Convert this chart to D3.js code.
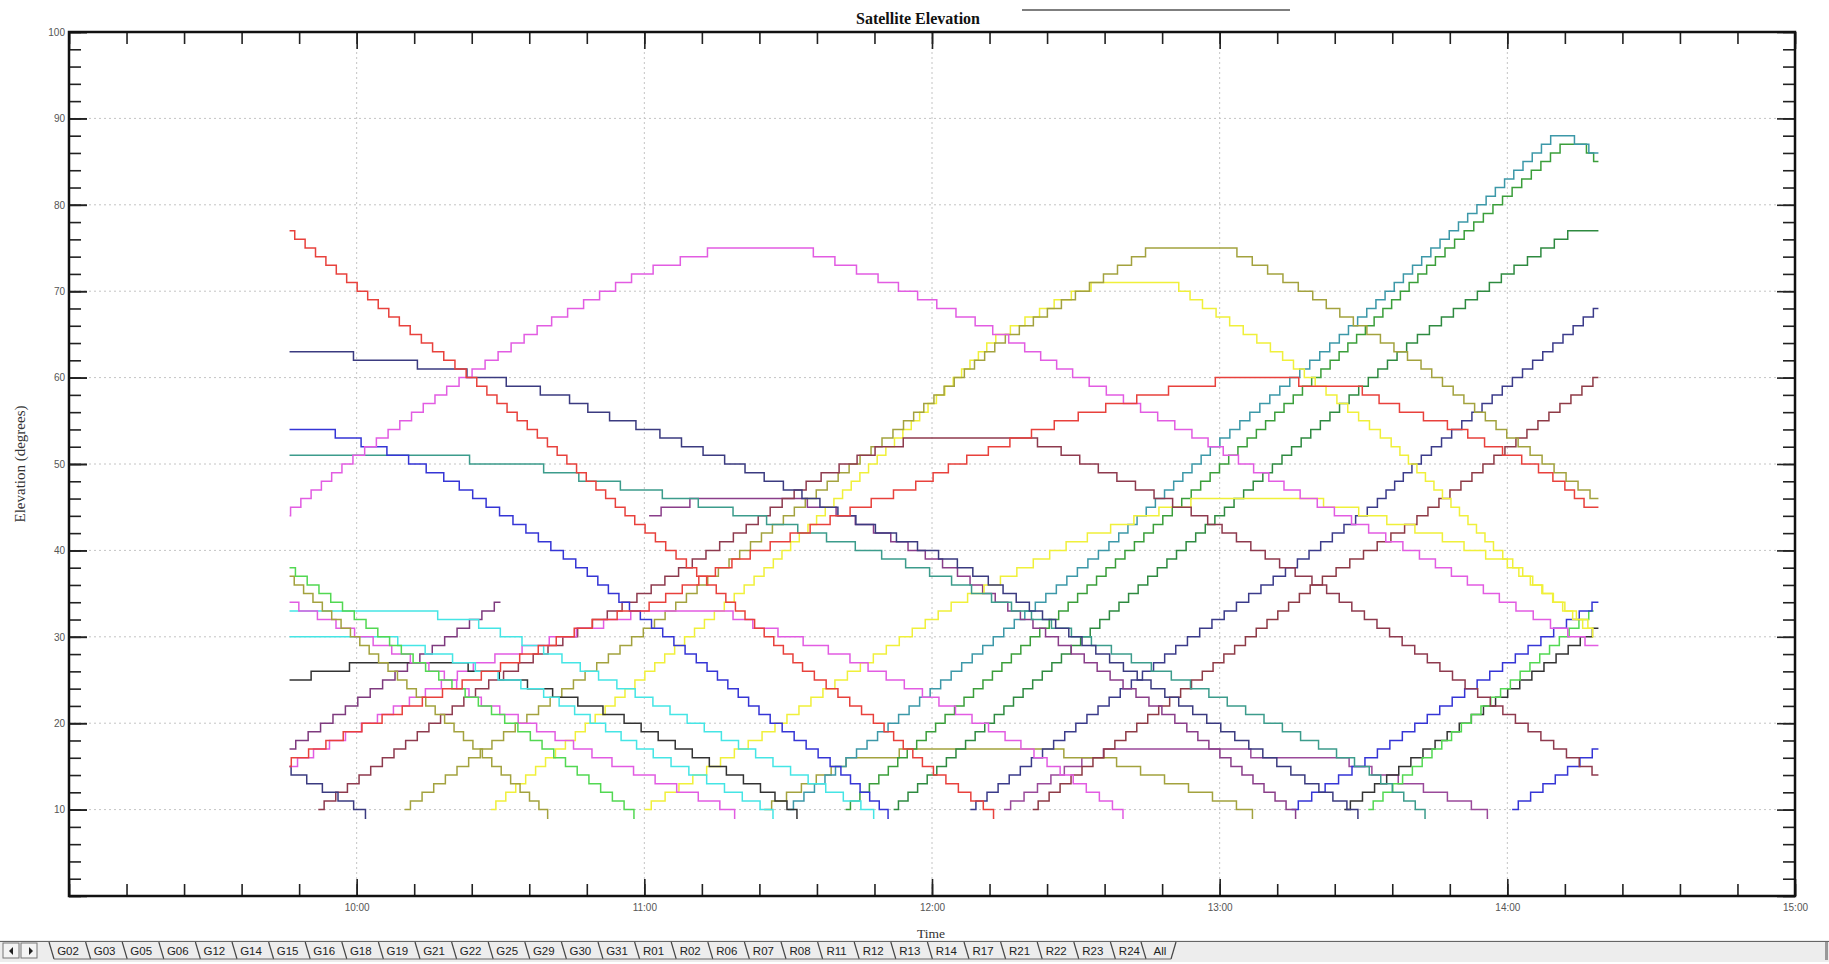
<!DOCTYPE html>
<html><head><meta charset="utf-8">
<script src="https://cdn.jsdelivr.net/npm/d3@7"></script>
<style>html,body{margin:0;padding:0;background:#fff;overflow:hidden}</style>
</head><body>
<svg id="chart" width="1829" height="964"></svg>
<script>
// ---------- text & ticks ----------
const chartTitle = "Satellite Elevation";
const xAxisTitle = "Time";
const yAxisTitle = "Elevation (degrees)";
const xDomain = ["09:00", "15:00"];
const xTickLabels = ["10:00", "11:00", "12:00", "13:00", "14:00", "15:00"];
const yTickLabels = [10, 20, 30, 40, 50, 60, 70, 80, 90, 100];
const tabLabels = ["G02","G03","G05","G06","G12","G14","G15","G16","G18","G19","G21","G22","G25","G29","G30","G31",
                   "R01","R02","R06","R07","R08","R11","R12","R13","R14","R17","R21","R22","R23","R24","All"];

// ---------- series: [time, elevation in degrees] ----------
const redFalling   = [["09:46",77],["09:59",71],["10:10",66],["10:24",60],["10:40",52.4],["10:58",43.5],["11:12",37],["11:20",33],["11:33",26.5],["11:49",20],["11:59",15],["12:12",10],["12:13",9.4]];
const redRising    = [["09:46",15.4],["09:59",19],["10:20",24],["10:36",28],["10:51",32],["11:01",33.5],["11:20",39],["11:45",45],["11:58",47.8],["12:05",50],["12:14",52],["12:23",54],["12:33",56],["12:44",57.7],["12:52",58.9],["13:05",60],["13:16",60],["13:17",59],["13:28",59],["13:35",57],["13:40",56],["13:50",54],["13:57",52],["14:05",50],["14:11",48],["14:17",45],["14:19",45]];
const magentaArc   = [["09:46",44.4],["09:58",50],["10:20",59],["10:39",66],["10:59",72],["11:16",75],["11:33",75],["11:51",71],["12:11",66],["12:31",60],["12:56",53],["13:15",47],["13:40",40],["14:00",34],["14:18",29],["14:19",29]];
const navyFalling  = [["09:46",63],["09:58",62.6],["10:14",61.4],["10:24",60.4],["10:32",59.4],["10:39",58.4],["10:45",57.4],["10:50",56],["11:01",54],["11:10",52],["11:19",50],["11:31",47],["11:46",43],["12:04",38.9],["12:14",35.8],["12:31",29.6],["12:50",23],["13:28",10],["13:29",9.4]];
const blueFalling  = [["09:46",54],["09:55",53.6],["10:09",51],["10:20",48],["10:34",43],["10:47",38],["10:58",33],["11:12",27],["11:25",21],["11:40",15],["11:50",10],["11:51",9.4]];
const tealFalling  = [["09:46",51],["10:22",50.6],["10:39",49.5],["10:50",48],["11:00",47],["11:15",45],["11:29",43],["11:47",40],["12:02",37],["12:52",25],["13:15",19],["13:30",15],["13:42",10],["13:43",9.4]];
const limeFalling  = [["09:46",38],["10:13",27],["10:35",19],["10:57",10],["10:58",9.4]];
const oliveFalling = [["09:46",37],["10:03",28.3],["10:39",10],["10:40",9.4]];
const pinkFalling  = [["09:46",34],["10:17",26],["10:26",22.5],["10:51",16],["11:18",10],["11:19",9.4]];
const cyanUpper    = [["09:46",33],["10:16",32.6],["10:25",31.6],["10:39",28.5],["11:00",23],["11:25",16],["11:47",10],["11:48",9.4]];
const cyanLower    = [["09:46",30],["10:08",29.6],["10:20",27.5],["10:39",23.5],["11:00",17],["11:26",10],["11:27",9.4]];
const blackFalling = [["09:46",25],["09:50",25],["09:51",26],["09:58",26],["09:59",27],["10:20",27],["10:33",25],["10:54",21],["11:26",12],["11:31",10],["11:32",9.4]];
const purpleShort  = [["09:46",17],["10:30",34]];
const magentaHump  = [["09:46",15],["10:26",27],["11:00",33],["11:17",33],["11:20",32],["11:41",28],["11:58",23.5],["12:18",17.7],["12:39",10],["12:40",9.4]];
const navyShort    = [["09:46",14.6],["10:01",10],["10:02",9.4]];
const maroonArc    = [["09:52",10],["10:26",24],["11:00",35],["11:20",42],["11:35",48],["11:50",52],["11:58",53],["12:19",53],["12:25",52],["12:56",44],["13:14",38],["13:21",36],["14:03",20],["14:19",14]];
const oliveArc     = [["10:10",10],["11:01",31],["11:21",40],["11:53",54],["12:15",64.4],["12:46",75],["13:02",75],["13:18",70],["13:42",61.5],["14:01",53],["14:19",45.8]];
const yellowArc    = [["10:28",10],["11:26",38],["11:52",52.4],["12:13",64.4],["12:27",69],["12:34",70.7],["12:51",70.7],["12:55",69],["13:12",63],["13:36",52.4],["13:58",40],["14:18",30.4]];
const yellowLow    = [["11:00",10],["11:26",19],["11:41",25],["12:04",33.5],["12:29",40.8],["12:46",44.3],["12:56",45.8],["13:18",46],["13:29",44.5],["13:46",41.6],["14:00",38.5],["14:18",31]];
const oliveLow     = [["11:25",10],["11:43",15.8],["11:53",16.4],["11:54",17],["12:27",17],["12:28",16],["12:36",16],["12:48",13.6],["12:53",12.6],["13:06",10],["13:07",9.4]];
const purpleFalling= [["11:01",44],["11:06",45],["11:13",46],["11:30",46],["11:38",45],["11:46",43],["12:04",38],["12:25",30],["12:52",20],["13:15",10],["13:16",9.4]];
const tealRising   = [["11:30",10],["12:38",41],["12:59",52],["13:24",64],["13:45",75],["14:10",88],["14:13",88],["14:15",87],["14:19",86]];
const greenRising  = [["11:42",10],["12:59",49],["13:24",62],["13:45",73.5],["14:12",87],["14:16",87],["14:17",86],["14:19",85]];
const dkGreenRising= [["11:52",10],["13:04",46],["13:40",64],["14:00",72],["14:14",77],["14:19",77]];
const navyRising   = [["12:08",10],["12:52",29],["13:15",38],["13:32",45],["13:41",50],["14:19",68]];
const brownRising  = [["12:21",10],["12:53",24],["13:20",36],["13:40",43],["14:19",60]];
const blueRising   = [["13:15",10],["13:29",15],["13:55",25],["14:19",34]];
const limeRising   = [["13:31",10],["14:18",33]];
const blackRising  = [["13:26",10],["14:19",31]];
const blueShortRise= [["14:01",10],["14:19",17]];
const purpleLow    = [["12:15",10],["12:29",15],["12:38",17],["13:06",17],["13:07",16],["13:25",16],["13:29",15],["13:40",13],["13:55",10],["13:56",9.4]];

const series = [
  {data: purpleLow,     color: "#9a4a9a"},
  {data: oliveLow,      color: "#a3a23e"},
  {data: blueShortRise, color: "#3535d5"},
  {data: blackRising,   color: "#333333"},
  {data: limeRising,    color: "#52d852"},
  {data: blueRising,    color: "#3535d5"},
  {data: brownRising,   color: "#8e3a46"},
  {data: navyRising,    color: "#3b3b8a"},
  {data: dkGreenRising, color: "#2e8a40"},
  {data: greenRising,   color: "#3a9e3a"},
  {data: tealRising,    color: "#3c98a8"},
  {data: purpleFalling, color: "#8a3e8a"},
  {data: yellowLow,     color: "#f0f03a"},
  {data: yellowArc,     color: "#f0f03a"},
  {data: oliveArc,      color: "#a3a23e"},
  {data: maroonArc,     color: "#8e3a4e"},
  {data: navyShort,     color: "#3b3b80"},
  {data: magentaHump,   color: "#e25ce2"},
  {data: purpleShort,   color: "#7e3a7e"},
  {data: blackFalling,  color: "#333333"},
  {data: cyanLower,     color: "#45e5e5"},
  {data: cyanUpper,     color: "#45e5e5"},
  {data: pinkFalling,   color: "#e25ce2"},
  {data: oliveFalling,  color: "#a3a23e"},
  {data: limeFalling,   color: "#52d852"},
  {data: tealFalling,   color: "#3c9c8c"},
  {data: blueFalling,   color: "#3535d5"},
  {data: navyFalling,   color: "#3b3b80"},
  {data: magentaArc,    color: "#e25ce2"},
  {data: redRising,     color: "#e8413c"},
  {data: redFalling,    color: "#e8413c"}
];

// ---------- layout ----------
const svg = d3.select("#chart");
const L = 69, R = 1795, T = 32, B = 896;
const parse = d3.timeParse("%H:%M");
const x = d3.scaleTime().domain(xDomain.map(parse)).range([L, R]);
const y = d3.scaleLinear().domain([0, 100]).range([B, T]);

// grid
const gridG = svg.append("g");
gridG.selectAll("line.gy").data(yTickLabels.filter(v => v < 100)).join("line")
  .attr("x1", L).attr("x2", R).attr("y1", d => y(d)).attr("y2", d => y(d))
  .attr("stroke", "#c4c4c4").attr("stroke-dasharray", "2,3").attr("stroke-width", 1);
gridG.selectAll("line.gx").data(xTickLabels.slice(0, -1).map(parse)).join("line")
  .attr("y1", T).attr("y2", B).attr("x1", d => x(d)).attr("x2", d => x(d))
  .attr("stroke", "#c4c4c4").attr("stroke-dasharray", "2,3").attr("stroke-width", 1);

// integer-degree staircase curve (the receiver reports whole degrees)
function curveDegreeSteps(ys) {
  const unit = ys(0) - ys(1), base = ys(0);
  function Stairs(ctx) { this._c = ctx; }
  Stairs.prototype = {
    areaStart() {}, areaEnd() {},
    lineStart() { this._p = []; },
    point(px, py) { this._p.push([+px, +py]); },
    lineEnd() {
      const p = this._p, c = this._c; if (!p.length) return;
      const deg = v => (base - v) / unit, lev = v => Math.round(deg(v)), yy = k => base - k * unit;
      let k = lev(p[0][1]);
      c.moveTo(p[0][0], yy(k));
      for (let i = 1; i < p.length; i++) {
        const [x0, y0] = p[i - 1], [x1, y1] = p[i];
        const e0 = deg(y0), e1 = deg(y1), k1 = lev(y1);
        while (k !== k1) {
          const nk = k1 > k ? k + 1 : k - 1, thr = (k + nk) / 2;
          let t = e1 === e0 ? 1 : (thr - e0) / (e1 - e0);
          t = Math.max(0, Math.min(1, t));
          const xx = x0 + t * (x1 - x0);
          c.lineTo(xx, yy(k)); c.lineTo(xx, yy(nk)); k = nk;
        }
      }
      c.lineTo(p[p.length - 1][0], yy(k));
    }
  };
  return ctx => new Stairs(ctx);
}

const line = d3.line().x(d => x(parse(d[0]))).y(d => y(d[1])).curve(curveDegreeSteps(y));
svg.append("g").selectAll("path").data(series).join("path")
  .attr("d", d => line(d.data)).attr("fill", "none")
  .attr("stroke", d => d.color).attr("stroke-width", 1.5);

// axes (ticks point inward)
const minorX = d3.timeMinute.every(12).range(parse("09:00"), parse("15:01"));
const hoursX = d3.timeHour.range(parse("09:00"), parse("15:01"));
const minorY = d3.range(0, 101, 2);
const majorY = d3.range(0, 101, 10);
const tickStyle = g => { g.select(".domain").remove(); g.selectAll("line").attr("stroke", "#222").attr("stroke-width", 1.6); g.selectAll("text").attr("fill", "#555").style("font", "10px 'Liberation Sans', Arial, sans-serif"); };

svg.append("g").attr("transform", `translate(0,${B})`).call(d3.axisBottom(x).tickValues(minorX).tickSize(-12).tickFormat("")).call(tickStyle);
svg.append("g").attr("transform", `translate(0,${B})`).call(d3.axisBottom(x).tickValues(xTickLabels.map(parse)).tickSize(-17).tickPadding(8).tickFormat(d3.timeFormat("%H:%M"))).call(tickStyle);
svg.append("g").attr("transform", `translate(0,${B})`).call(d3.axisBottom(x).tickValues([parse("09:00")]).tickSize(-17).tickFormat("")).call(tickStyle);
svg.append("g").attr("transform", `translate(0,${T})`).call(d3.axisTop(x).tickValues(minorX).tickSize(-12).tickFormat("")).call(tickStyle);
svg.append("g").attr("transform", `translate(0,${T})`).call(d3.axisTop(x).tickValues(hoursX).tickSize(-17).tickFormat("")).call(tickStyle);
svg.append("g").attr("transform", `translate(${L},0)`).call(d3.axisLeft(y).tickValues(minorY).tickSize(-12).tickFormat("")).call(tickStyle);
svg.append("g").attr("transform", `translate(${L},0)`).call(d3.axisLeft(y).tickValues(yTickLabels).tickSize(-18).tickPadding(4).tickFormat(d3.format("d"))).call(tickStyle);
svg.append("g").attr("transform", `translate(${L},0)`).call(d3.axisLeft(y).tickValues(majorY).tickSize(-18).tickFormat("")).call(tickStyle);
svg.append("g").attr("transform", `translate(${R},0)`).call(d3.axisRight(y).tickValues(minorY).tickSize(-12).tickFormat("")).call(tickStyle);
svg.append("g").attr("transform", `translate(${R},0)`).call(d3.axisRight(y).tickValues(majorY).tickSize(-18).tickFormat("")).call(tickStyle);

// frame
svg.append("rect").attr("x", L).attr("y", T).attr("width", R - L).attr("height", B - T)
  .attr("fill", "none").attr("stroke", "#111").attr("stroke-width", 2.5);

// titles
svg.append("text").attr("x", 918).attr("y", 24).attr("text-anchor", "middle")
  .style("font", "bold 16px 'Liberation Serif', 'Times New Roman', serif").attr("fill", "#111").text(chartTitle);
svg.append("line").attr("x1", 1022).attr("x2", 1290).attr("y1", 10).attr("y2", 10).attr("stroke", "#555").attr("stroke-width", 1.6);
svg.append("text").attr("x", 931).attr("y", 938).attr("text-anchor", "middle")
  .style("font", "13.5px 'Liberation Serif', 'Times New Roman', serif").attr("fill", "#333").text(xAxisTitle);
svg.append("text").attr("transform", "translate(25,464) rotate(-90)").attr("text-anchor", "middle")
  .style("font", "15px 'Liberation Serif', 'Times New Roman', serif").attr("fill", "#333").text(yAxisTitle);

// sheet tabs bar
const tabY0 = 942, tabY1 = 959;
svg.append("rect").attr("x", 0).attr("y", 940).attr("width", 1829).attr("height", 22).attr("fill", "#ededed");
svg.append("line").attr("x1", 0).attr("x2", 1829).attr("y1", 941.5).attr("y2", 941.5).attr("stroke", "#666").attr("stroke-width", 1.2);
svg.append("rect").attr("x", 1825).attr("y", 942).attr("width", 3).attr("height", 18).attr("fill", "#999");
const tabStep = 36.6, tabStart = 68;
const tabX = (d, i) => d === "All" ? tabStart + tabStep * i - 6 : tabStart + tabStep * i;
const btn = svg.append("g");
[[3, "M13,947 L9,951 L13,955 Z"], [21, "M29,947 L33,951 L29,955 Z"]].forEach(([bx, path]) => {
  btn.append("rect").attr("x", bx).attr("y", 943).attr("width", 16).attr("height", 15).attr("fill", "#f4f4f4").attr("stroke", "#777").attr("stroke-width", 1);
  btn.append("path").attr("d", path).attr("fill", "#222");
});
const tabs = svg.append("g");
tabs.selectAll("line.sep").data(tabLabels).join("line")
  .attr("x1", (d, i) => tabX(d, i) - 19).attr("x2", (d, i) => tabX(d, i) - 14)
  .attr("y1", tabY0).attr("y2", tabY1).attr("stroke", "#444").attr("stroke-width", 1.2);
tabs.append("line").attr("x1", tabX("All", tabLabels.length - 1) + 11).attr("x2", tabX("All", tabLabels.length - 1) + 16)
  .attr("y1", tabY1).attr("y2", tabY0).attr("stroke", "#444").attr("stroke-width", 1.2);
tabs.append("line").attr("x1", tabStart - 14).attr("x2", tabX("All", tabLabels.length - 1) + 11)
  .attr("y1", tabY1).attr("y2", tabY1).attr("stroke", "#666").attr("stroke-width", 1);
tabs.selectAll("text").data(tabLabels).join("text")
  .attr("x", (d, i) => tabX(d, i)).attr("y", 954.5).attr("text-anchor", "middle")
  .style("font", "11.5px 'Liberation Sans', Arial, sans-serif").attr("fill", "#222").text(d => d);
</script>
</body></html>
